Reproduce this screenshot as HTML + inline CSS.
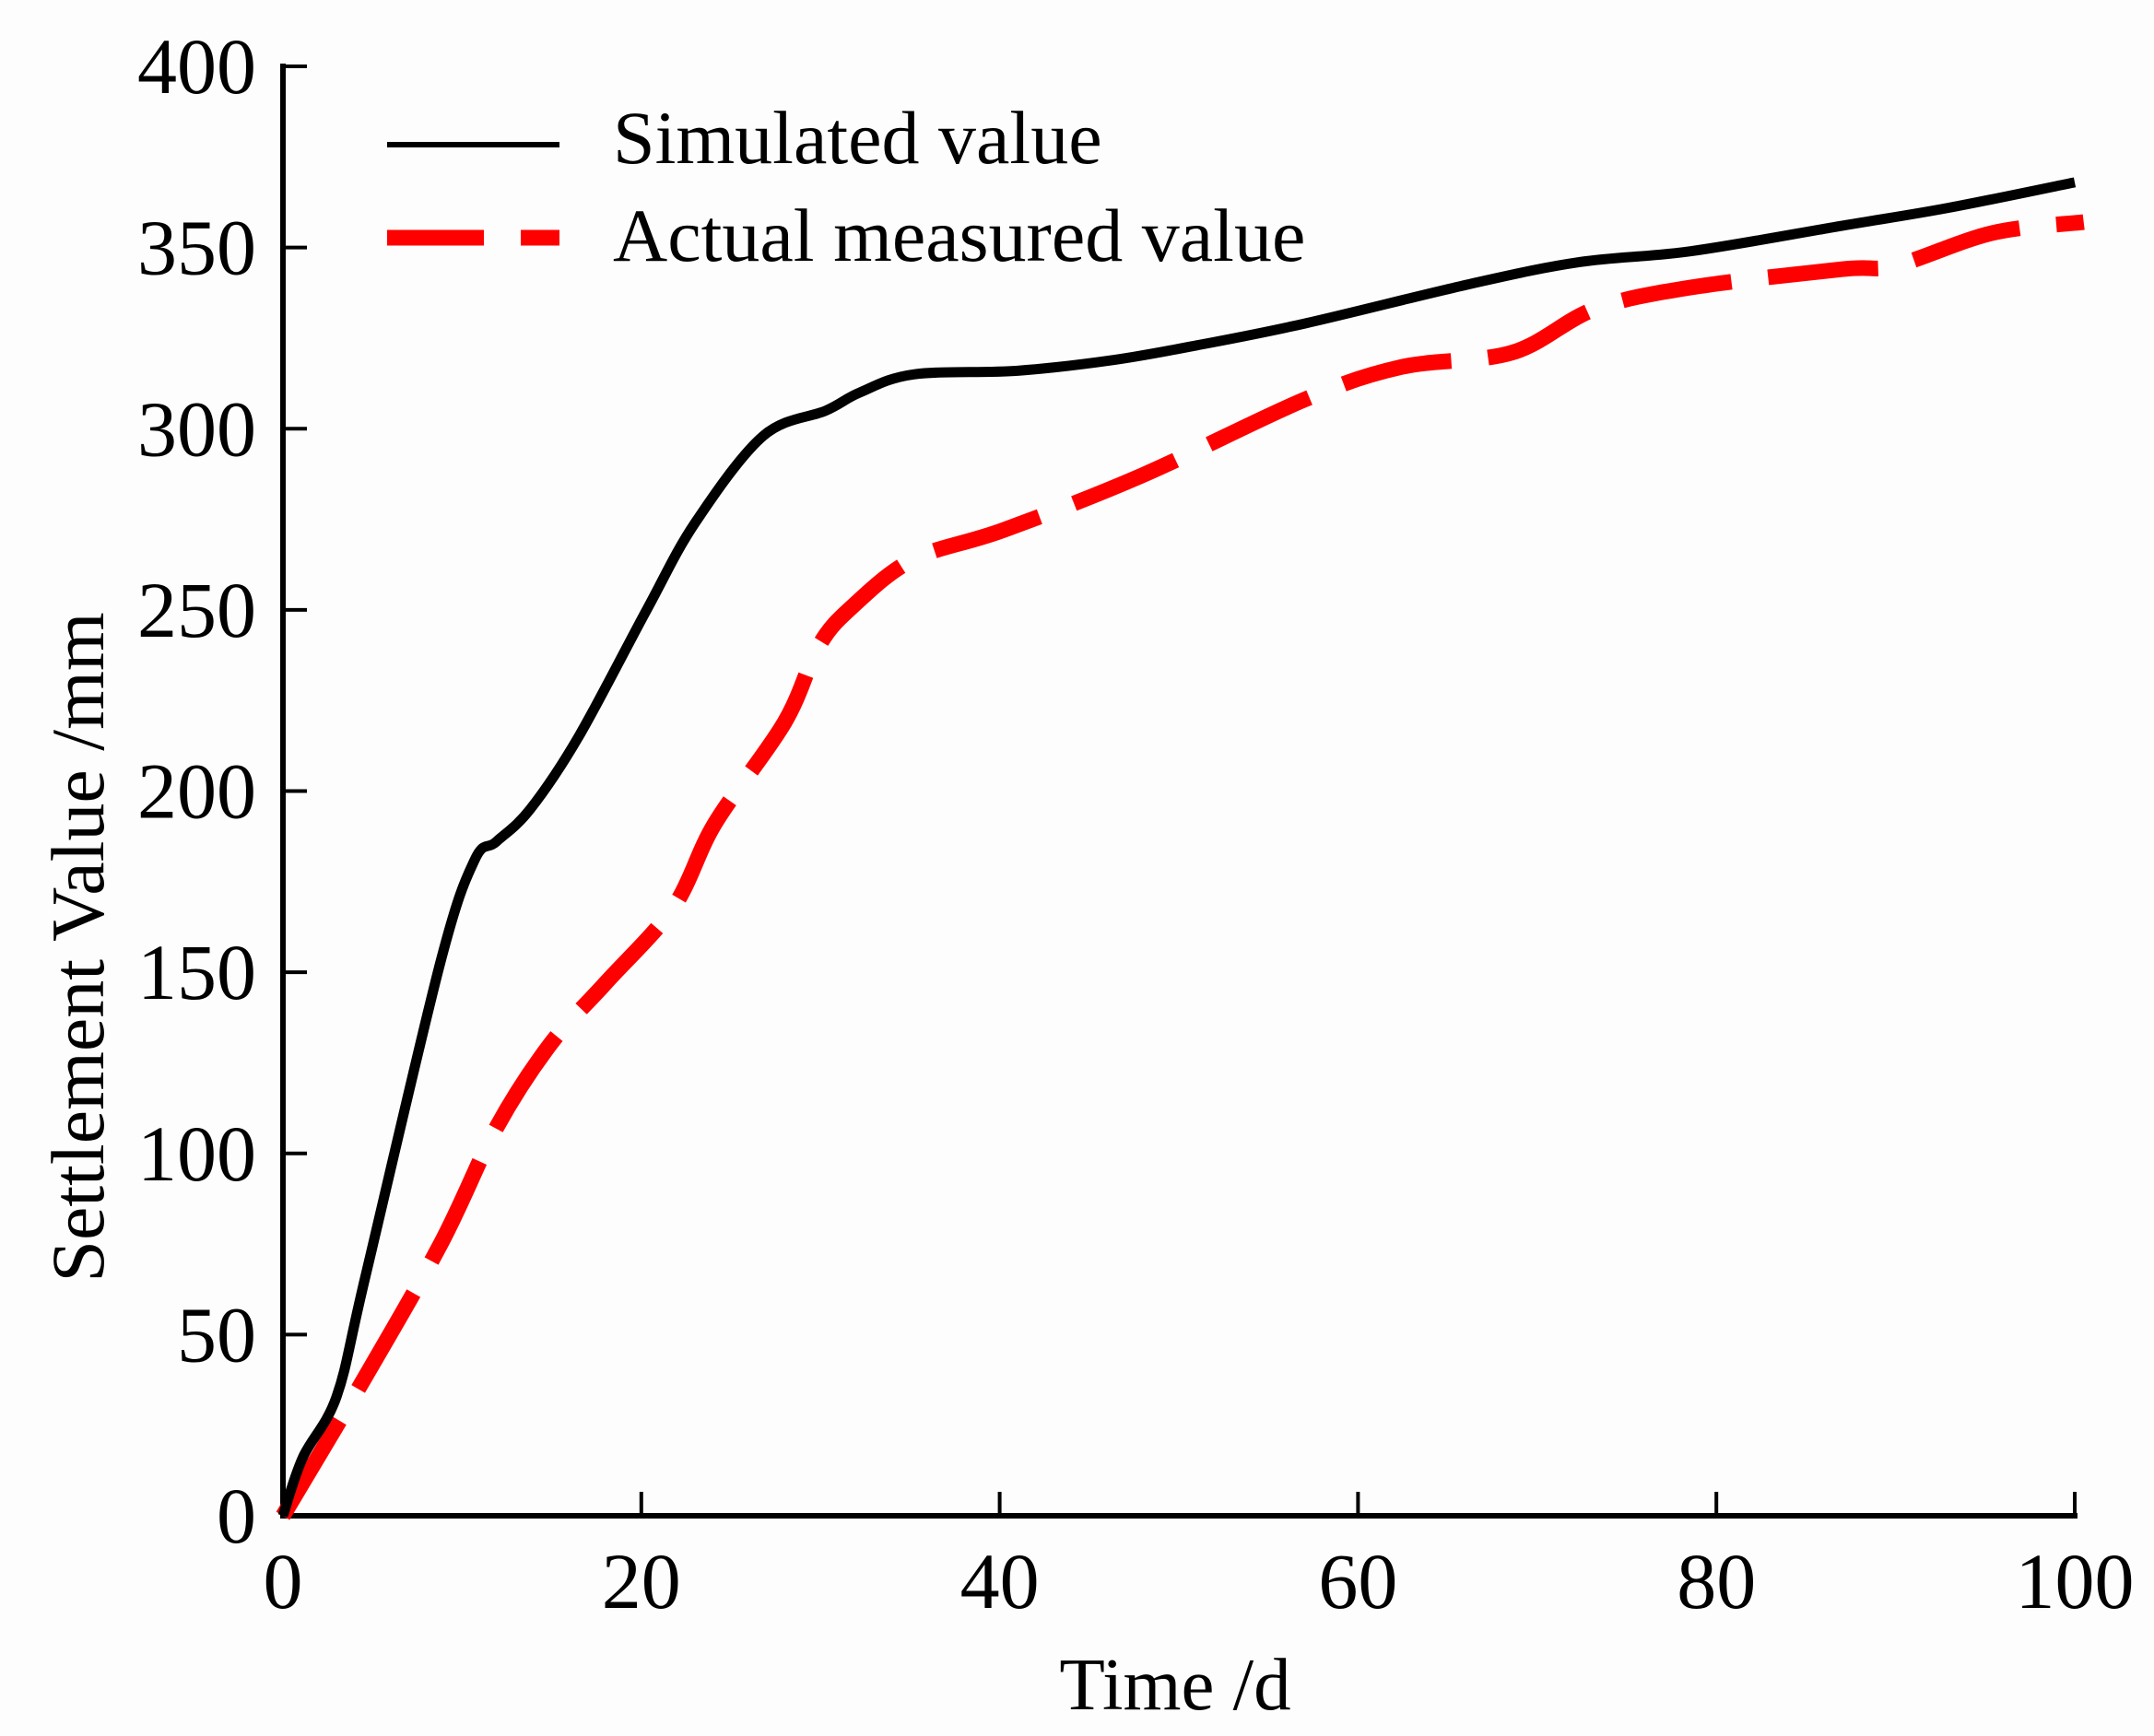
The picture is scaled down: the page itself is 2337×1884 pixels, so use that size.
<!DOCTYPE html>
<html><head><meta charset="utf-8"><style>
html,body{margin:0;padding:0;background:#fff}
svg{display:block}
text{font-family:"Liberation Serif",serif;fill:#000}
</style></head><body>
<svg id="chart" width="2337" height="1884" viewBox="0 0 2337 1884" xmlns="http://www.w3.org/2000/svg">
<rect width="2337" height="1884" fill="#fdfdfd"/>
<g id="axes"></g>
<g id="series"></g>
<g id="legend">
 <line x1="420" y1="157" x2="607" y2="157" stroke="#000" stroke-width="6"/>
 <text x="665" y="177" font-size="82">Simulated value</text>
 <line x1="420" y1="258" x2="607" y2="258" stroke="#ff0000" stroke-width="17" stroke-dasharray="105,40"/>
 <text x="665" y="283" font-size="82">Actual measured value</text>
</g>
<text x="1275" y="1855" font-size="81" text-anchor="middle">Time /d</text>
<text transform="translate(112,1028) rotate(-90)" font-size="82" text-anchor="middle">Settlement Value /mm</text>
</svg>
<script>
const xTicks=[0,20,40,60,80,100];
const yTicks=[0,50,100,150,200,250,300,350,400];
const simDays=[0,1.1,3,4.6,8.8,10.7,11.9,13.8,16.5,20.3,23,26.8,30.3,32.2,35.2,41,46.4,51,57,66.3,72.4,78.6,87,93,100];
const simValues=[0,16,33,66,153,181,186,195,215,250,274,298,305,310,315,316,319,323,329,340,346,349,356,361,368];
const measDays=[0,4.2,8.8,11.9,14.9,18,21.8,24.1,28,29.9,31.8,35.2,40.2,47.9,57,62.4,68.6,73.2,78.6,87,90,95.4,100.5];
const measValues=[0,35,75,107,130,147,168,191,219,240,251,264,272,287,308,317,321,333,339,344,345,354,357];
const X0=307,X1=2251,Y0=1645,Y1=72;
function sx(d){return X0+(X1-X0)*d/100;}
function sy(v){return Y0-(Y0-Y1)*v/400;}
const NS="http://www.w3.org/2000/svg";
function mk(tag,attrs,parent){const e=document.createElementNS(NS,tag);for(const k in attrs)e.setAttribute(k,attrs[k]);parent.appendChild(e);return e;}
const axes=document.getElementById('axes');
let a=mk('line',{x1:X0,y1:Y0,x2:X1+3,y2:Y0,stroke:'#000','stroke-width':6},axes);


a=mk('line',{x1:X0,y1:Y0+3,x2:X0,y2:Y1-3,stroke:'#000','stroke-width':6},axes);


xTicks.forEach(t=>{
 const l=mk('line',{x1:sx(t),y1:Y0,x2:sx(t),y2:Y0-26,stroke:'#000','stroke-width':4},axes);
 
 
 const tx=mk('text',{x:sx(t),y:1745,'font-size':86,'text-anchor':'middle'},axes);
 tx.textContent=t;
 
 
});
yTicks.forEach(t=>{
 const l=mk('line',{x1:X0,y1:sy(t),x2:X0+26,y2:sy(t),stroke:'#000','stroke-width':4},axes);
 
 
 const tx=mk('text',{x:278,y:sy(t)+29,'font-size':86,'text-anchor':'end'},axes);
 tx.textContent=t;
 
 
});
function smooth(xs,ys){
 const p=xs.map((d,i)=>[sx(d),sy(ys[i])]);
 let s='M'+p[0][0]+','+p[0][1];
 for(let i=0;i<p.length-1;i++){
  const p0=p[i-1]||p[i],p1=p[i],p2=p[i+1],p3=p[i+2]||p2;
  const c1=[p1[0]+(p2[0]-p0[0])/6,p1[1]+(p2[1]-p0[1])/6];
  const c2=[p2[0]-(p3[0]-p1[0])/6,p2[1]-(p3[1]-p1[1])/6];
  s+=' C'+c1+' '+c2+' '+p2;
 }
 return s;
}
const ser=document.getElementById('series');
const m=mk('path',{d:smooth(measDays,measValues),fill:'none',stroke:'#ff0000','stroke-width':17,'stroke-dasharray':'120,40'},ser);


const s=mk('path',{d:smooth(simDays,simValues),fill:'none',stroke:'#000','stroke-width':11,'stroke-linejoin':'round'},ser);


</script>
</body></html>
